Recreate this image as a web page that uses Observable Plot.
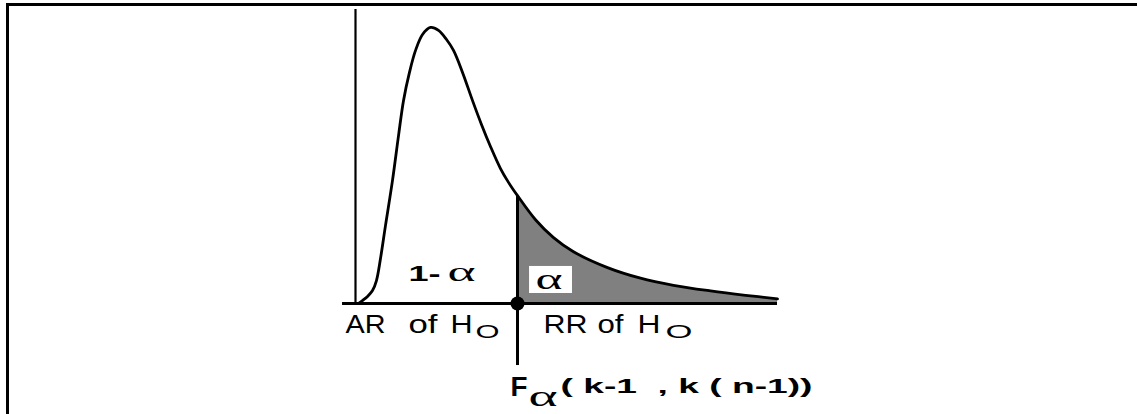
<!DOCTYPE html>
<html><head><meta charset="utf-8">
<script src="https://cdn.jsdelivr.net/npm/d3@7"></script>
<script src="https://cdn.jsdelivr.net/npm/@observablehq/plot@0.6"></script>
<style>
html,body{margin:0;padding:0;background:#fff;overflow:hidden;}
#wrap{position:relative;width:1137px;height:414px;}
#frame{position:absolute;left:6px;top:3px;width:1300px;height:600px;border-top:3px solid #000;border-left:3px solid #000;box-sizing:border-box;pointer-events:none;}
#chart{position:absolute;left:0;top:0;}
</style></head><body>
<div id="wrap"><div id="chart"></div><div id="frame"></div></div>
<script>
// F-distribution density curve
const fX = [0.036,0.083,0.143,0.202,0.249,0.297,0.356,0.439,0.511,0.570,0.641,0.713,0.796,0.891,0.986,1.081,1.164,1.271,1.390,1.496,1.603,1.722,1.817,1.924,2.138,2.352,2.589,2.993,3.385,3.777,4.216,4.632,5.012];
const fY = [0.000,0.010,0.024,0.044,0.078,0.153,0.265,0.418,0.571,0.690,0.786,0.861,0.915,0.939,0.929,0.898,0.861,0.786,0.690,0.609,0.534,0.459,0.412,0.367,0.285,0.224,0.176,0.122,0.086,0.062,0.043,0.028,0.016];
const fCrit = 1.924;        // F_alpha critical value
const critDensity = 0.367;  // curve height at F_alpha
const axisStart = -0.154, axisEnd = 5.012, stemBottom = -0.211;

// annotation texts (anchors in data units, baseline y)
const boldSmall   = [{text:"1-", x1:0.629, x2:1.010, y:0.075}];
const alphaMid    = [{text:"α", x1:1.093, x2:1.425, y:0.075}];
const alphaBoxTxt = [{text:"α", x1:2.138, x2:2.458, y:0.051}];
const alphaBox    = [{x1:2.067, x2:2.577, y1:0.034, y2:0.126}];
const regionWords = [
  {text:"AR", x1:-0.119, x2:0.356, y:-0.099},
  {text:"of", x1:0.629, x2:0.974, y:-0.099},
  {text:"H",  x1:1.128, x2:1.390, y:-0.099},
  {text:"RR", x1:2.233, x2:2.755, y:-0.099},
  {text:"of", x1:2.874, x2:3.183, y:-0.099},
  {text:"H",  x1:3.349, x2:3.622, y:-0.099}
];
const subO       = [{text:"O", x1:1.425, x2:1.710, y:-0.116},{text:"O", x1:3.682, x2:4.002, y:-0.116}];
const bigF       = [{text:"F", x1:1.841, x2:2.043, y:-0.313}];
const alphaSub   = [{text:"α", x1:2.055, x2:2.399, y:-0.347}];
const dfText     = [{text:"( k-1  , k ( n-1))", x1:2.435, x2:5.428, y:-0.303}];

const curve = fX.map((x,i)=>({x, y:fY[i]}));
const tail = curve.filter(d=>d.x>=fCrit);

const sans = "'Liberation Sans', Arial, sans-serif";
const serif = "'Liberation Serif', 'Times New Roman', serif";
function label(data, name, opts){
  return Plot.text(data, {x:"x1", y:"y", text:"text", textAnchor:"start", lineAnchor:"bottom", fill:"#000", ariaDescription:name, ...opts});
}
const labelSets = {
  "lbl-bold": boldSmall, "lbl-amid": alphaMid, "lbl-abox": alphaBoxTxt, "lbl-words": regionWords,
  "lbl-sub": subO, "lbl-F": bigF, "lbl-asub": alphaSub, "lbl-df": dfText
};

const plot = Plot.plot({
  width:1137, height:414,
  marginLeft:355, marginRight:361, marginTop:9, marginBottom:111,
  x:{domain:[0,5], axis:null},
  y:{domain:[0,1], axis:null},
  style:{background:"transparent", fontFamily:sans},
  marks:[
    Plot.areaY(tail, {x:"x", y:"y", curve:"catmull-rom", fill:"#808080"}),
    Plot.ruleX([0], {y1:0, y2:1, stroke:"#000", strokeWidth:2.2}),
    Plot.ruleY([0], {x1:axisStart, x2:axisEnd, stroke:"#000", strokeWidth:2.8}),
    Plot.line(curve, {x:"x", y:"y", curve:"catmull-rom", stroke:"#000", strokeWidth:2.8}),
    Plot.ruleX([fCrit], {y1:stemBottom, y2:critDensity, stroke:"#000", strokeWidth:3}),
    Plot.dot([fCrit], {x:d=>d, y:0, r:7, fill:"#000", stroke:"none"}),
    Plot.rect(alphaBox, {x1:"x1", x2:"x2", y1:"y1", y2:"y2", fill:"#fff"}),
    label(boldSmall, "lbl-bold", {fontSize:22, fontWeight:"bold", fontFamily:sans}),
    label(alphaMid, "lbl-amid", {fontSize:28, fontFamily:serif}),
    label(alphaBoxTxt, "lbl-abox", {fontSize:30, fontFamily:serif}),
    label(regionWords, "lbl-words", {fontSize:25, fontFamily:sans}),
    label(subO, "lbl-sub", {fontSize:19, fontFamily:sans}),
    label(bigF, "lbl-F", {fontSize:28, fontWeight:"bold", fontFamily:sans}),
    label(alphaSub, "lbl-asub", {fontSize:30, fontFamily:serif}),
    label(dfText, "lbl-df", {fontSize:21, fontWeight:"bold", fontFamily:sans})
  ]
});

const xs = plot.scale("x");
for (const [name, data] of Object.entries(labelSets)) {
  d3.select(plot).selectAll(`g[aria-description="${name}"] text`).each(function(_, i){
    const d = data[i];
    if (!d) return;
    this.setAttribute("textLength", (xs.apply(d.x2) - xs.apply(d.x1)).toFixed(1));
    this.setAttribute("lengthAdjust", "spacingAndGlyphs");
    this.style.whiteSpace = "pre";
  });
}
document.getElementById("chart").appendChild(plot);
</script>
</body></html>
